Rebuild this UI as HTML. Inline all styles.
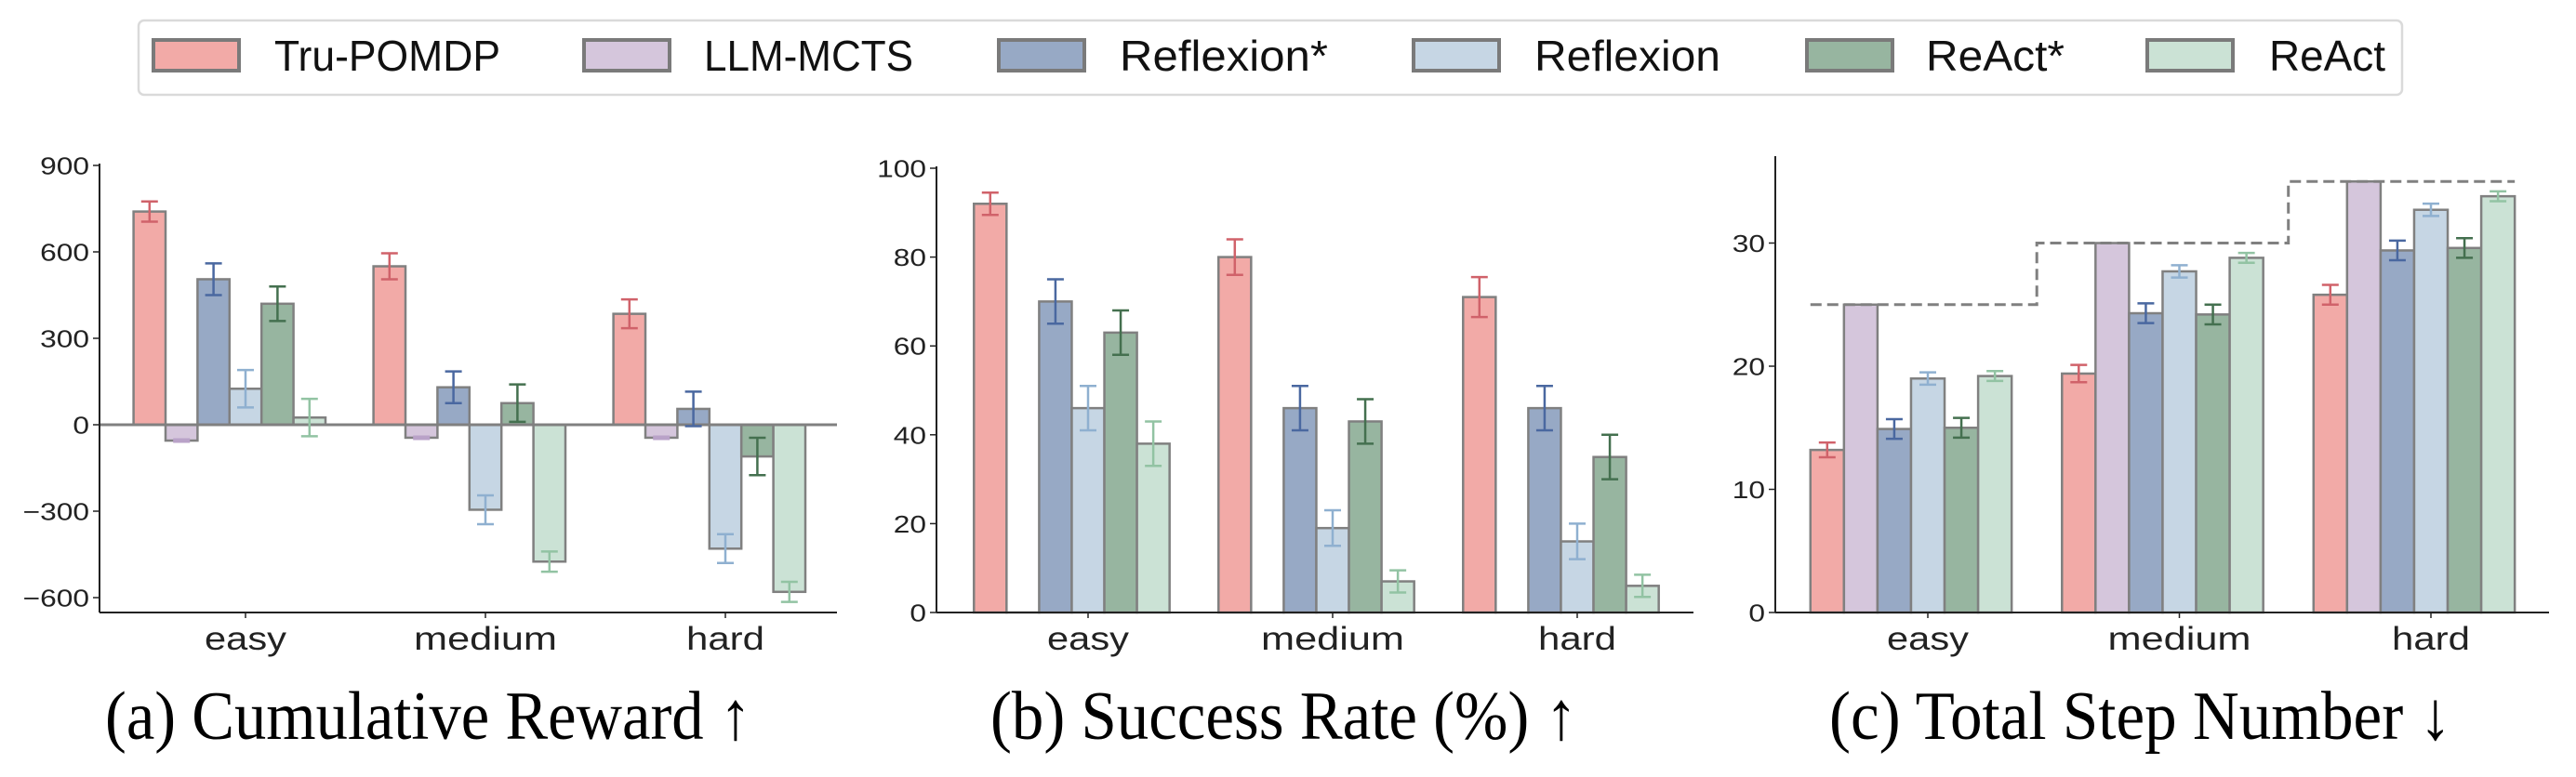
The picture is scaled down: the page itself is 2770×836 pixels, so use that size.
<!DOCTYPE html>
<html><head><meta charset="utf-8"><style>html,body{margin:0;padding:0;background:#fff;overflow:hidden}svg{display:block}</style></head>
<body>
<svg id="fig" width="2770" height="836" viewBox="0 0 2770 836" xmlns="http://www.w3.org/2000/svg"></svg>
<script>
const categories = ["easy","medium","hard"];
const seriesNames = ["Tru-POMDP","LLM-MCTS","Reflexion*","Reflexion","ReAct*","ReAct"];
const rewardTru = [740,550,385], rewardTruErr=[35,45,50];
const rewardMcts = [-55,-45,-45], rewardMctsErr=[4,4,4];
const rewardRefS = [505,130,55], rewardRefSErr=[55,55,60];
const rewardRef = [125,-295,-430], rewardRefErr=[65,50,50];
const rewardReaS = [420,75,-110], rewardReaSErr=[60,65,65];
const rewardRea = [25,-475,-580], rewardReaErr=[65,35,35];
const successTru=[92,80,71], successTruErr=[2.5,4,4.5];
const successMcts=[0,0,0], successMctsErr=[0,0,0];
const successRefS=[70,46,46], successRefSErr=[5,5,5];
const successRef=[46,19,16], successRefErr=[5,4,4];
const successReaS=[63,43,35], successReaSErr=[5,5,5];
const successRea=[38,7,6], successReaErr=[5,2.5,2.5];
const stepsTru=[13.2,19.4,25.8], stepsTruErr=[0.6,0.7,0.8];
const stepsMcts=[25,30,35], stepsMctsErr=[0,0,0];
const stepsRefS=[14.9,24.3,29.4], stepsRefSErr=[0.8,0.8,0.8];
const stepsRef=[19,27.7,32.7], stepsRefErr=[0.5,0.5,0.5];
const stepsReaS=[15,24.2,29.6], stepsReaSErr=[0.8,0.8,0.8];
const stepsRea=[19.2,28.8,33.8], stepsReaErr=[0.4,0.4,0.4];
const stepLimits=[25,30,35];
const rewardTicks=[-600,-300,0,300,600,900];
const successTicks=[0,20,40,60,80,100];
const stepTicks=[0,10,20,30];

const fills=["#f2aaa7","#d5c6dc","#97a9c5","#c6d6e4","#97b5a0","#cbe2d5"];
const errC=["#d0626a","#b9a2c8","#4a68a0","#8fb0d0","#44704f","#92c3a3"];
const svg=document.getElementById('fig');
const NS="http://www.w3.org/2000/svg";
function el(tag,attrs,parent){const e=document.createElementNS(NS,tag);for(const k in attrs)e.setAttribute(k,attrs[k]);(parent||svg).appendChild(e);return e;}

const lg=el('g',{});


el('rect',{x:149,y:22,width:2434,height:80,rx:6,fill:'#fff',stroke:'#dadada','stroke-width':2.5},lg);
const patchX=[165,628,1074,1520,1943,2309], textX=[295,757,1204,1650,2071,2440], textW=[243,225,224,200,149,125];
seriesNames.forEach((n,i)=>{
  const g=el('g',{},lg);
  
  
  el('rect',{x:patchX[i],y:43,width:92,height:33,fill:fills[i],stroke:'#7a7a7a','stroke-width':4},g);
  const t=el('text',{x:textX[i],y:76,'font-family':'Liberation Sans, sans-serif','font-size':46,textLength:textW[i],lengthAdjust:'spacingAndGlyphs',fill:'#111'},g);
  t.textContent=n;
});

const AXB=659;
function chart(cfg){
  const g=el('g',{});
  
  
  const yS=v=>cfg.y0-(v-cfg.v0)*cfg.k;
  const xC=i=>cfg.tx0+i*cfg.sp;
  const bw=cfg.sp*0.8/6;
  cfg.series.forEach((vals,s)=>{
    vals.forEach((v,i)=>{
      const cx=xC(i)+(s-3)*bw;
      const top=Math.min(yS(v),yS(0)), h=Math.abs(yS(v)-yS(0));
      const r=el('rect',{x:cx-bw/2,y:top,width:bw,height:Math.max(h,0.01),fill:fills[s],stroke:'#808080','stroke-width':2.5},g);
      
      
    });
  });
  if(cfg.zeroLine){const z=el('line',{x1:cfg.xl,x2:cfg.xr,y1:yS(0),y2:yS(0),stroke:'#808080','stroke-width':3},g);}
  cfg.series.forEach((vals,s)=>{
    vals.forEach((v,i)=>{
      const e=cfg.errs[s][i]; if(!e) return;
      const cx=xC(i)+(s-3)*bw;
      const eg=el('g',{stroke:errC[s],'stroke-width':2.5},g);
      
      
      el('line',{x1:cx,x2:cx,y1:yS(v-e),y2:yS(v+e)},eg);
      el('line',{x1:cx-9,x2:cx+9,y1:yS(v-e),y2:yS(v-e)},eg);
      el('line',{x1:cx-9,x2:cx+9,y1:yS(v+e),y2:yS(v+e)},eg);
    });
  });
  if(cfg.limits){
    let d='';
    cfg.limits.forEach((L,i)=>{
      const xa=i===0?xC(i)-3.5*bw:xC(i)-cfg.sp/2-bw/2;
      const xb=i===2?xC(i)+2.5*bw:xC(i)+cfg.sp/2-bw/2;
      d+=(i===0?'M':'L')+xa+','+yS(L)+' L'+xb+','+yS(L)+' ';
    });
    const p=el('path',{d:d,fill:'none',stroke:'#808080','stroke-width':3,'stroke-dasharray':'12,6'},g);
    
    
  }
  const ax=el('line',{x1:cfg.xl,x2:cfg.xl,y1:cfg.top,y2:AXB,stroke:'#222','stroke-width':2},g);
  
  const bx=el('line',{x1:cfg.xl,x2:cfg.xr,y1:AXB,y2:AXB,stroke:'#222','stroke-width':2},g);
  
  cfg.ticks.forEach(t=>{
    const y=yS(t);
    el('line',{x1:cfg.xl-7,x2:cfg.xl,y1:y,y2:y,stroke:'#222','stroke-width':1.5},g);
    const tx=el('text',{transform:`translate(${cfg.xl-11},${y+9.5}) scale(1.22,1)`,'text-anchor':'end','font-family':'Liberation Sans, sans-serif','font-size':26,fill:'#222'},g);
    tx.textContent=(t<0?'\u2212'+(-t):''+t);
    
    
  });
  const cw=[88,154,84];
  categories.forEach((c,i)=>{
    el('line',{x1:xC(i),x2:xC(i),y1:AXB,y2:AXB+6,stroke:'#222','stroke-width':1.5},g);
    const tx=el('text',{x:xC(i),y:699,'text-anchor':'middle','font-family':'Liberation Sans, sans-serif','font-size':35,textLength:cw[i],lengthAdjust:'spacingAndGlyphs',fill:'#222'},g);
    tx.textContent=c;
    
    
  });
  const st=el('text',{x:cfg.tx,y:795,'font-family':'Liberation Serif, serif','font-size':74,textLength:cfg.tw,lengthAdjust:'spacingAndGlyphs',fill:'#000'},g);
  st.textContent=cfg.title;
  
  
}
chart({name:'cumulative-reward-chart',y0:457,v0:0,k:93/300,tx0:264,sp:258,xl:107,xr:900,top:176,zeroLine:true,
  series:[rewardTru,rewardMcts,rewardRefS,rewardRef,rewardReaS,rewardRea],
  errs:[rewardTruErr,rewardMctsErr,rewardRefSErr,rewardRefErr,rewardReaSErr,rewardReaErr],
  ticks:rewardTicks,title:'(a) Cumulative Reward \u2191',tx:113,tw:695});
chart({name:'success-rate-chart',y0:659,v0:0,k:4.78,tx0:1170,sp:263,xl:1007,xr:1821,top:179,
  series:[successTru,successMcts,successRefS,successRef,successReaS,successRea],
  errs:[successTruErr,successMctsErr,successRefSErr,successRefErr,successReaSErr,successReaErr],
  ticks:successTicks,title:'(b) Success Rate (%) \u2191',tx:1065,tw:631});
chart({name:'total-step-chart',y0:659,v0:0,k:13.25,tx0:2073,sp:270.5,xl:1909,xr:2741,top:168,limits:stepLimits,
  series:[stepsTru,stepsMcts,stepsRefS,stepsRef,stepsReaS,stepsRea],
  errs:[stepsTruErr,stepsMctsErr,stepsRefSErr,stepsRefErr,stepsReaSErr,stepsReaErr],
  ticks:stepTicks,title:'(c) Total Step Number \u2193',tx:1967,tw:669});
</script>
</body></html>
